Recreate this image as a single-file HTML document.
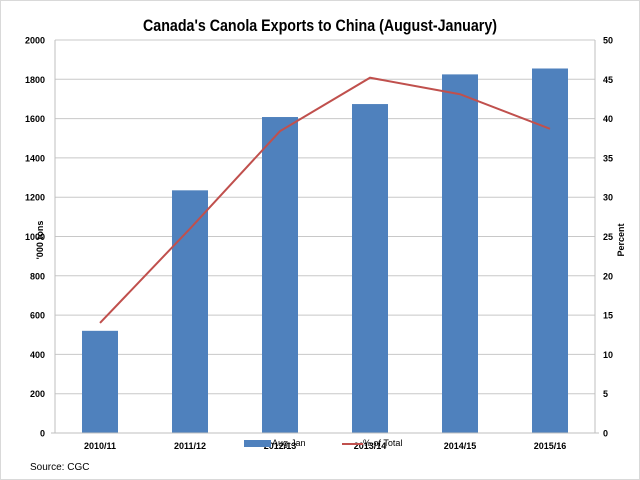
<!DOCTYPE html>
<html><head><meta charset="utf-8"><style>
html,body{margin:0;padding:0;background:#fff}
svg{display:block;font-family:"Liberation Sans",sans-serif}
</style></head><body>
<svg width="640" height="480" viewBox="0 0 640 480">
<rect x="0.5" y="0.5" width="639" height="479" fill="#fff" stroke="#d9d9d9"/>
<text x="320" y="31" text-anchor="middle" font-size="17" font-weight="bold" textLength="354" lengthAdjust="spacingAndGlyphs">Canada's Canola Exports to China (August-January)</text>
<g id="grid"></g>
<g id="bars"></g>
<g id="line"></g>
<g id="axes"></g>
<text transform="translate(43,240) rotate(-90)" text-anchor="middle" font-size="9" font-weight="bold">'000 tons</text>
<text transform="translate(624,240) rotate(-90)" text-anchor="middle" font-size="9" font-weight="bold">Percent</text>
<g>
<rect x="244" y="440" width="27" height="7" fill="#4f81bd"/>
<text x="272" y="446" font-size="9">Aug-Jan</text>
<line x1="342" y1="444" x2="363" y2="444" stroke="#c0504d" stroke-width="2"/>
<text x="363" y="446" font-size="9">% of Total</text>
</g>
<text x="30" y="470" font-size="10">Source: CGC</text>
</svg>
<script>
const categories=["2010/11","2011/12","2012/13","2013/14","2014/15","2015/16"];
const exportsK=[520,1235,1608,1674,1825,1855];
const pctTotal=[14,26,38.4,45.2,43.1,38.7];
const leftTicks=[0,200,400,600,800,1000,1200,1400,1600,1800,2000];
const rightTicks=[0,5,10,15,20,25,30,35,40,45,50];
const NS="http://www.w3.org/2000/svg";
const X0=55,X1=595,Y0=433,Y1=40;
const yL=v=>Y0-(v/2000)*(Y0-Y1);
const yR=v=>Y0-(v/50)*(Y0-Y1);
const band=(X1-X0)/categories.length;
const xC=i=>X0+band*(i+0.5);
function mk(tag,attrs,parent){const e=document.createElementNS(NS,tag);for(const k in attrs)e.setAttribute(k,attrs[k]);document.getElementById(parent).appendChild(e);return e;}
leftTicks.forEach((t,i)=>{
  if(t>0){const g=mk('line',{x1:X0,x2:X1,y1:yL(t),y2:yL(t),stroke:'#c8c8c8','stroke-width':1},'grid');
  
  }
  const l=mk('text',{x:X0-10,y:yL(t)+3.5,'text-anchor':'end','font-size':9,'font-weight':'bold'},'axes');l.textContent=t;
  
  
});
rightTicks.forEach(t=>{
  const l=mk('text',{x:X1+8,y:yR(t)+3.5,'font-size':9,'font-weight':'bold'},'axes');l.textContent=t;
  
  
});
const a1=mk('line',{x1:X0,x2:X0,y1:Y1,y2:Y0,stroke:'#bfbfbf'},'axes');


const a2=mk('line',{x1:X1,x2:X1,y1:Y1,y2:Y0,stroke:'#bfbfbf'},'axes');


const a3=mk('line',{x1:X0-4,x2:X1+4,y1:Y0,y2:Y0,stroke:'#bfbfbf'},'axes');


categories.forEach((c,i)=>{
  const b=mk('rect',{x:xC(i)-18,y:yL(exportsK[i]),width:36,height:Y0-yL(exportsK[i]),fill:'#4f81bd'},'bars');
  
  
  const t=mk('text',{x:xC(i),y:Y0+16,'text-anchor':'middle','font-size':9,'font-weight':'bold'},'axes');t.textContent=c;
  
  
});
const pl=mk('polyline',{points:pctTotal.map((v,i)=>xC(i)+','+yR(v)).join(' '),fill:'none',stroke:'#c0504d','stroke-width':2},'line');


</script>
</body></html>
